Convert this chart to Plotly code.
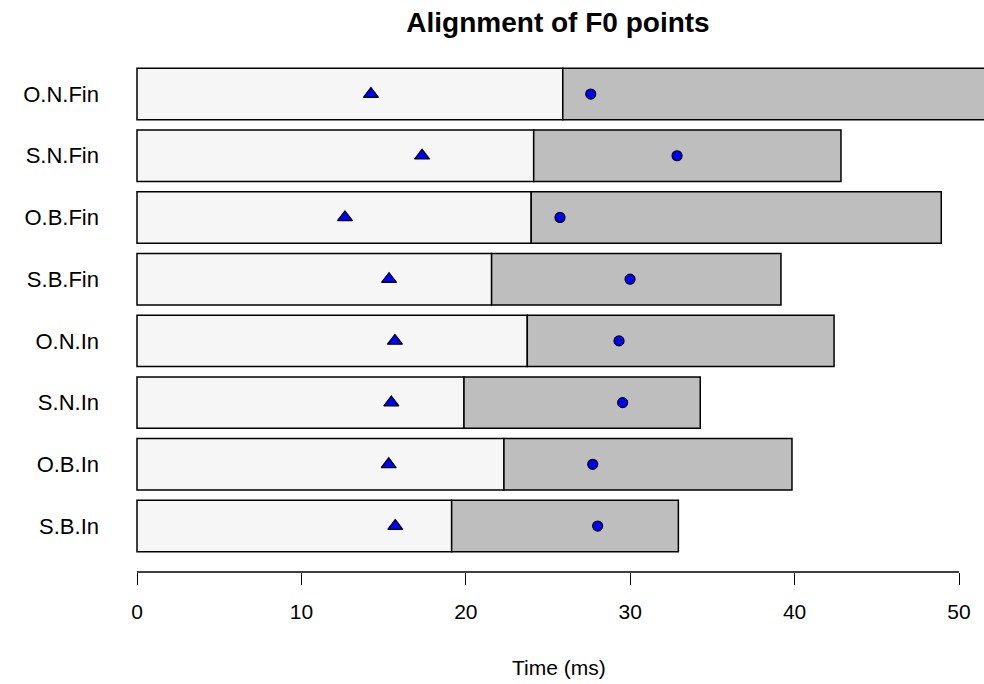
import plotly.graph_objects as go

# Conditions, listed bottom to top
conditions = ["S.B.In", "O.B.In", "S.N.In", "O.N.In",
              "S.B.Fin", "O.B.Fin", "S.N.Fin", "O.N.Fin"]

# End of the first interval (ms)
first_end = [19.14, 22.32, 19.89, 23.74, 21.57, 23.98, 24.13, 25.90]
# End of the second interval (ms)
second_end = [32.93, 39.84, 34.26, 42.40, 39.17, 48.92, 42.82, 54.00]
# F0 turning points (ms)
f0_low = [15.71, 15.31, 15.47, 15.69, 15.33, 12.65, 17.34, 14.23]
f0_high = [28.02, 27.72, 29.54, 29.32, 29.99, 25.73, 32.85, 27.60]

x_ticks = [0, 10, 20, 30, 40, 50]

FONT = "Liberation Sans, Arial, sans-serif"
ypos = list(range(len(conditions)))
second_len = [b - a for a, b in zip(first_end, second_end)]

fig = go.Figure()
fig.add_trace(go.Bar(
    y=ypos, x=first_end, base=[0] * len(ypos), orientation="h",
    width=0.833, marker=dict(color="#F6F6F6", line=dict(color="black", width=1.5)),
    showlegend=False, hoverinfo="skip"))
fig.add_trace(go.Bar(
    y=ypos, x=second_len, base=first_end, orientation="h",
    width=0.833, marker=dict(color="#BEBEBE", line=dict(color="black", width=1.5)),
    showlegend=False, hoverinfo="skip"))
fig.add_trace(go.Scatter(
    y=ypos, x=f0_low, mode="markers",
    marker=dict(symbol="triangle-up", size=13, color="blue",
                line=dict(color="black", width=1.2)),
    showlegend=False))
fig.add_trace(go.Scatter(
    y=ypos, x=f0_high, mode="markers",
    marker=dict(symbol="circle", size=10, color="blue",
                line=dict(color="black", width=1.2)),
    showlegend=False))

# Axis line spanning the labelled tick range only
fig.add_shape(type="line", xref="x", yref="paper",
              x0=x_ticks[0], x1=x_ticks[-1], y0=0, y1=0,
              line=dict(color="black", width=1.3))

fig.add_annotation(text="Time (ms)", xref="paper", yref="paper",
                   x=0.517, y=-0.183, showarrow=False, yanchor="middle",
                   font=dict(family=FONT, size=21, color="black"))

fig.update_layout(
    width=984, height=684,
    margin=dict(l=104, r=0, t=49, b=112),
    paper_bgcolor="white", plot_bgcolor="white",
    barmode="overlay",
    title=dict(text="<b>Alignment of F0 points</b>", x=558 / 984, xanchor="center",
               xref="container", y=1 - 22 / 684, yref="container", yanchor="middle",
               font=dict(family=FONT, size=28, color="black")),
    xaxis=dict(range=[-2.007, 51.52], tickvals=x_ticks, ticktext=[str(t) for t in x_ticks],
               ticks="outside", ticklen=12, tickwidth=1.3, tickcolor="black",
               ticklabelstandoff=9,
               showgrid=False, zeroline=False, showline=False,
               tickfont=dict(family=FONT, size=21, color="black")),
    yaxis=dict(range=[-0.745, 7.73], tickvals=ypos, ticktext=conditions,
               ticks="", ticklabelstandoff=4,
               showgrid=False, zeroline=False, showline=False,
               tickfont=dict(family=FONT, size=22, color="black")),
)

fig.write_html("out.html")
